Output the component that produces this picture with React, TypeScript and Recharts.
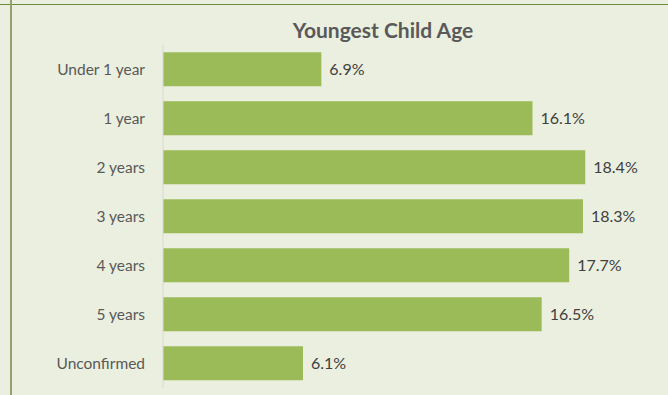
import React from "react";
import { BarChart, Bar, XAxis, YAxis, LabelList } from "recharts";

// Youngest child age distribution (% of respondents)
const categories = ["Under 1 year", "1 year", "2 years", "3 years", "4 years", "5 years", "Unconfirmed"];
const shares = [6.9, 16.1, 18.4, 18.3, 17.7, 16.5, 6.1];

const data = categories.map((age, i) => ({ age, share: shares[i] }));

const FONT = "Lato, 'Open Sans', sans-serif";

export default function App() {
  return (
    <div
      style={{
        position: "absolute",
        left: 0,
        top: 0,
        width: 668,
        height: 395,
        background: "#ebefdf",
        overflow: "hidden",
        fontFamily: FONT,
      }}
    >
      {/* frame lines from the surrounding slide */}
      <div style={{ position: "absolute", left: 0, top: 4, width: 668, height: 1, background: "#6f8a3c" }} />
      <div style={{ position: "absolute", left: 10, top: 0, width: 2, height: 395, background: "#94a36e" }} />

      <BarChart
        width={668}
        height={395}
        data={data}
        layout="vertical"
        margin={{ top: 45, right: 46, bottom: 7, left: 0 }}
        barCategoryGap="15%"
        style={{ position: "absolute", left: 0, top: 0 }}
      >
        <text
          x={383}
          y={38}
          textAnchor="middle"
          fontSize={21}
          fontWeight={700}
          fill="#595959"
          fontFamily={FONT}
        >
          Youngest Child Age
        </text>
        <XAxis type="number" domain={[0, 20]} hide />
        <YAxis
          type="category"
          dataKey="age"
          width={163}
          tickLine={false}
          axisLine={{ stroke: "#d9d9d9" }}
          tickMargin={12}
          tick={{ fill: "#595959", fontSize: 15.5, fontFamily: FONT }}
        />
        <Bar dataKey="share" fill="#9bbb59" isAnimationActive={false}>
          <LabelList
            dataKey="share"
            position="right"
            offset={8}
            formatter={(v: any) => `${v}%`}
            style={{ fill: "#404040", fontSize: 16, fontFamily: FONT }}
          />
        </Bar>
      </BarChart>
    </div>
  );
}
